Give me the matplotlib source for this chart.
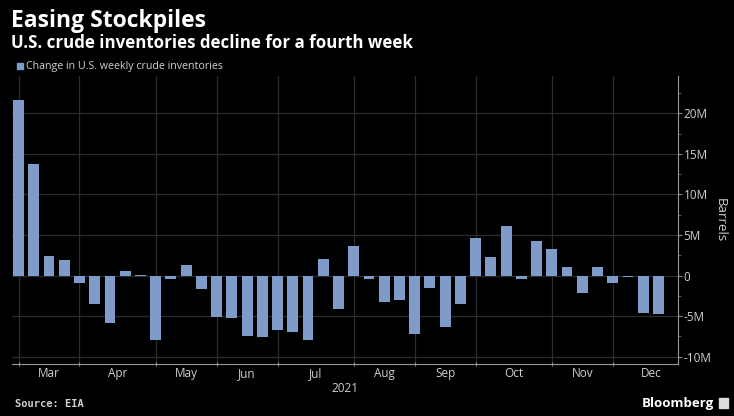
import matplotlib.pyplot as plt
import pandas as pd
import numpy as np

# weekly change in U.S. crude inventories, millions of barrels (week ending Friday)
week_start = '2021-02-26'
values = [21.6, 13.8, 2.4, 1.9, -0.9, -3.5, -5.9, 0.6, 0.1, -8.0,
          -0.4, 1.3, -1.7, -5.1, -5.2, -7.4, -7.6, -6.7, -6.9, -7.9,
          2.1, -4.1, 3.6, -0.4, -3.2, -3.0, -7.2, -1.5, -6.4, -3.5,
          4.6, 2.3, 6.1, -0.4, 4.3, 3.3, 1.0, -2.1, 1.0, -0.9,
          -0.2, -4.6, -4.7]
y_ticks = [-10, -5, 0, 5, 10, 15, 20]
y_labels = ['-10M', '-5M', '0', '5M', '10M', '15M', '20M']

dates = pd.date_range(week_start, periods=len(values), freq='7D')

BG = '#000000'
BAR = '#7f9bc8'
GRID = '#2c2c2c'
TXT = '#d0d0d0'

fig = plt.figure(figsize=(7.34, 4.16), dpi=100, facecolor=BG)
ax = fig.add_axes([12 / 734, 52 / 416, 666 / 734, 288 / 416], facecolor=BG)

ax.bar(dates, values, width=5, color=BAR, zorder=3)

# month separators sit on the last weekly point of each month
s = pd.Series(dates, index=dates)
month_last = s.groupby([dates.year, dates.month]).max().tolist()[:-1]
bounds = month_last + [dates[-1] + pd.Timedelta(days=14)]
for d in month_last:
    ax.axvline(d, color=GRID, lw=0.9, zorder=1)
ax.set_xticks(month_last)
ax.set_xticklabels([])
ax.tick_params(axis='x', length=3, color='#888888', direction='inout')
for a, b in zip(bounds[:-1], bounds[1:]):
    mid = a + (b - a) / 2
    ax.text(mid, -0.012, b.strftime('%b'), transform=ax.get_xaxis_transform(),
            ha='center', va='top', color=TXT, fontsize=8.5, family='Open Sans')
ax.text(0.5, -0.062, '2021', transform=ax.transAxes, ha='center', va='top',
        color=TXT, fontsize=8.5, family='Open Sans')

ax.set_xlim(pd.Timestamp('2021-02-23'), pd.Timestamp('2021-12-26'))
ax.set_ylim(-10.9, 24.6)

ax.yaxis.tick_right()
ax.yaxis.set_label_position('right')
ax.set_yticks(y_ticks)
ax.set_yticklabels(y_labels, family='Open Sans')
ax.set_yticks(np.arange(-7.5, 25, 5), minor=True)
ax.tick_params(axis='y', which='major', length=3, color='#888888', labelcolor=TXT,
               labelsize=8.5, pad=1)
ax.tick_params(axis='y', which='minor', length=2, color='#666666')
ax.grid(axis='y', color=GRID, lw=0.9, zorder=1)
ax.set_ylabel('Barrels', rotation=270, color=TXT, fontsize=9.5, labelpad=11,
              family='Open Sans')

for sp in ['left', 'top']:
    ax.spines[sp].set_visible(False)
ax.spines['bottom'].set_color('#999999')
ax.spines['right'].set_color('#999999')

# header
fig.text(11 / 734, 1 - 21 / 416, 'Easing Stockpiles', color='white', fontsize=16.5,
         fontweight='bold', family='Open Sans', va='center')
fig.text(11 / 734, 1 - 43 / 416, 'U.S. crude inventories decline for a fourth week',
         color='white', fontsize=12.2, fontweight='bold', family='Open Sans', va='center')
fig.patches.append(plt.Rectangle((17 / 734, 1 - 69 / 416), 6 / 734, 6 / 416,
                                 transform=fig.transFigure, color=BAR))
fig.text(26 / 734, 1 - 66 / 416, 'Change in U.S. weekly crude inventories',
         color=TXT, fontsize=7.7, family='Open Sans', va='center')

# footer
fig.text(15 / 734, 1 - 404 / 416, 'Source: EIA', color=TXT, fontsize=7.5,
         fontweight='bold', family='DejaVu Sans Mono', va='center')
fig.text(714 / 734, 1 - 403 / 416, 'Bloomberg', color='white', fontsize=9.5,
         fontweight='bold', family='Open Sans', va='center', ha='right')
fig.patches.append(plt.Rectangle((719 / 734, 1 - 408 / 416), 9 / 734, 10 / 416,
                                 transform=fig.transFigure, color='#dddddd'))

fig.savefig('out.png', dpi=100, facecolor=BG)
